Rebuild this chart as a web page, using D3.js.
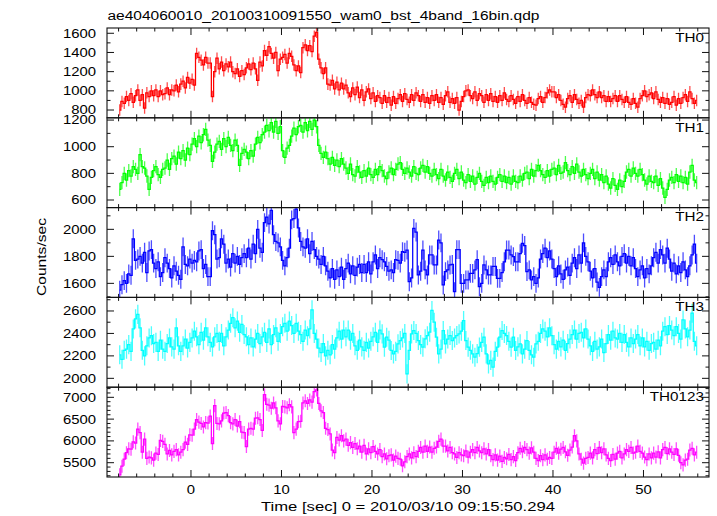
<!DOCTYPE html>
<html><head><meta charset="utf-8">
<script src="https://cdn.jsdelivr.net/npm/d3@7/dist/d3.min.js"></script>
<style>
body{margin:0;background:#fff}
svg{display:block}
text{font-family:"Liberation Sans",Arial,Helvetica,sans-serif;font-size:12px;fill:#000}
</style>
</head><body>
<svg id="c" width="717" height="516"></svg>
<script>
// ---- data (0.25 s bins starting at t = -8 s) ----
const binStart = -8.0, binWidth = 0.25;
const th0 = [
800,890,870,940, 900,970,880,950, 1010,900,960,820, 980,940,1000,950, 1010,940,1000,960, 970,1030,960,1010, 1000,1060,990,1070, 1100,1030,1140,1080,
1120,1060,1390,1350, 1320,1270,1350,1290, 1290,940,1200,1340, 1230,1300,1210,1280, 1250,1300,1200,1180, 1230,1150,1210,1170, 1240,1280,1220,1290, 1230,1110,1300,1260,
1420,1370,1460,1390, 1340,1400,1210,1330, 1350,1380,1290,1390, 1360,1270,1210,1260, 1190,1450,1480,1420, 1470,1410,1570,1610, 1330,1240,1180,1240, 1070,1060,1110,1020,
1090,1010,1080,1020, 1060,980,940,1030, 960,1040,930,1010, 900,990,1020,920, 980,890,950,930, 870,950,880,930, 850,940,870,920, 960,890,970,910,
880,960,900,980, 950,890,960,880, 930,870,950,900, 960,880,930,860, 950,990,880,920, 870,930,800,890, 940,1000,1010,950, 920,990,900,970,
950,880,960,900, 970,890,940,880, 950,900,980,910, 890,950,910,870, 940,890,960,900, 870,930,880,860, 850,920,940,880, 930,980,1010,990,
990,930,960,900, 860,830,920,950, 880,960,910,870, 900,830,930,960, 950,1010,960,930, 990,930,950,890, 940,890,920,950, 890,950,910,880,
940,880,860,920, 870,830,920,950, 1000,940,960,980, 920,990,910,880, 930,870,920,860, 880,940,850,920, 870,930,960,890, 990,920,870,900
];
const th1 = [
680,730,800,750, 820,780,850,830, 800,940,850,840, 780,680,770,820, 850,790,770,830, 840,900,830,910, 930,870,960,910, 970,900,990,940,
1020,1060,1000,1080, 1030,1090,1130,1050, 1010,890,960,1020, 1040,980,1060,1000, 1070,1010,970,1050, 1010,860,950,980, 960,910,970,930, 1020,1070,1030,1090,
1110,1160,1120,1180, 1110,1190,1100,1150, 970,920,990,1010, 1080,1140,1090,1150, 1160,1110,1180,1120, 1190,1130,1200,1150, 1010,950,920,960, 910,870,920,860,
900,850,910,870, 840,800,870,790, 780,850,810,770, 820,780,840,790, 770,830,790,850, 820,780,760,810, 840,790,830,870, 880,830,800,840,
810,780,850,800, 790,840,860,810, 850,800,780,830, 790,760,830,780, 750,810,770,740, 800,830,760,810, 750,730,790,740, 780,720,770,800,
740,710,770,730, 780,740,720,770, 790,740,780,730, 770,720,780,740, 730,780,750,800, 810,760,830,780, 820,860,820,790, 770,820,780,830,
840,790,860,800, 810,880,820,790, 850,800,870,810, 780,830,790,760, 800,830,760,810, 750,790,730,780, 720,690,760,710, 680,750,700,740,
810,830,780,840, 800,780,830,790, 750,720,780,740, 730,780,710,760, 690,620,680,750, 770,730,790,740, 780,730,770,720, 810,860,750,730
];
const th2 = [
1550,1590,1620,1600, 1670,1660,1930,1770, 1780,1800,1750,1830, 1680,1840,1850,1750, 1710,1760,1650,1680, 1790,1750,1710,1640, 1730,1690,1660,1630, 1870,1740,1730,1780,
1750,1770,1760,1840, 1850,1710,1740,1650, 1650,1990,1960,1780, 1790,1930,1890,1750, 1780,1720,1820,1750, 1800,1740,1790,1820, 1790,1860,1780,1890, 1820,2000,1860,1830,
2050,2090,2040,2140, 1960,1910,1900,1870, 1770,1730,1790,1860, 2070,2080,2150,2010, 1910,1870,1860,1930, 1820,1910,1850,1800, 1780,1740,1800,1730, 1690,1640,1710,1630,
1700,1650,1720,1630, 1710,1750,1670,1730, 1660,1720,1740,1680, 1740,1680,1760,1670, 1760,1810,1710,1790, 1775,1760,1725,1690, 1700,1680,1775,1770, 1750,1835,1830,1847,
1612,1640,2007,1980, 1662,1690,1847,1700, 1662,1810,1810,1736, 1736,1921,1900,1588, 1687,1700,1736,1740, 1538,1850,1850,1600, 1600,1625,1625,1674, 1674,1700,1775,1575,
1600,1736,1700,1662, 1662,1725,1725,1637, 1637,1680,1760,1847, 1847,1810,1798,1760, 1760,1820,1897,1880, 1687,1700,1625,1650, 1600,1640,1780,1820, 1860,1790,1840,1780,
1710,1650,1730,1670, 1630,1700,1720,1660, 1750,1790,1710,1810, 1750,1900,1800,1760, 1690,1640,1710,1610, 1570,1650,1700,1650, 1760,1790,1740,1810, 1760,1730,1800,1820,
1750,1800,1730,1790, 1710,1650,1700,1730, 1640,1710,1670,1730, 1790,1830,1750,1850, 1810,1750,1860,1780, 1690,1750,1670,1730, 1680,1760,1700,1650, 1730,1810,1890,1750
];
const th3 = [
2210,2170,2250,2260, 2300,2240,2440,2530, 2570,2450,2250,2200, 2290,2360,2380,2310, 2320,2240,2340,2260, 2240,2310,2360,2280, 2260,2450,2290,2240, 2290,2350,2270,2320,
2360,2420,2370,2300, 2410,2340,2450,2370, 2320,2280,2370,2400, 2330,2400,2290,2370, 2430,2490,2540,2450, 2510,2410,2480,2390, 2370,2300,2360,2280, 2350,2400,2310,2370,
2410,2320,2440,2300, 2390,2450,2330,2400, 2460,2490,2420,2510, 2470,2400,2490,2420, 2390,2330,2430,2380, 2440,2610,2400,2350, 2270,2230,2310,2200, 2250,2210,2300,2260,
2360,2420,2350,2430, 2370,2430,2340,2400, 2290,2250,2340,2280, 2250,2320,2270,2330, 2370,2410,2320,2430, 2396,2278,2366,2340, 2248,2218,2240,2307, 2337,2360,2400,2040,
2248,2396,2426,2400, 2337,2300,2278,2352, 2380,2411,2605,2500, 2366,2218,2260,2426, 2307,2350,2381,2337, 2360,2381,2396,2420, 2515,2337,2278,2250, 2218,2188,2220,2278,
2320,2366,2218,2129, 2160,2100,2240,2278, 2366,2426,2400,2381, 2330,2278,2366,2248, 2280,2307,2218,2260, 2337,2248,2210,2188, 2307,2330,2400,2440, 2420,2370,2450,2380,
2300,2260,2330,2280, 2340,2250,2310,2350, 2390,2430,2350,2400, 2410,2360,2440,2350, 2290,2240,2330,2260, 2280,2350,2230,2310, 2390,2340,2420,2360, 2350,2400,2320,2390,
2320,2280,2360,2310, 2350,2390,2290,2360, 2280,2330,2250,2310, 2320,2260,2340,2290, 2420,2460,2390,2470, 2430,2380,2460,2400, 2350,2520,2440,2370, 2430,2580,2330,2290
];
const th0123 = [
5220,5420,5580,5730, 5820,5810,5980,5950, 6270,6190,5740,6040, 5600,5630,5610,5560, 5720,5690,6010,5990, 5920,5700,5780,5680, 5760,5800,5680,5740, 5800,5970,5920,6140,
6130,6270,6490,6430, 6400,6320,6420,6410, 6570,5940,6810,6400, 6390,6460,6640,6650, 6580,6420,6390,6490, 6340,6440,6200,6190, 5870,6270,6290,6270, 6520,6530,6490,6240,
7060,6840,6820,6750, 6870,6760,6460,6390, 6790,6780,6760,6830, 6780,6190,6270,6440, 6450,6870,6920,6860, 6940,6890,7130,7170, 6860,6690,6650,6290, 6260,6160,5790,5730,
6080,6020,6120,6000, 6040,5900,5960,5850, 5940,5820,5880,5740, 5900,5700,5820,5730, 5870,5760,5700,5800, 5640,5700,5590,5660, 5680,5560,5650,5600, 5580,5430,5520,5640,
5700,5610,5730,5640, 5760,5850,5740,5880, 5760,5860,5740,5830, 5860,5990,6040,5880, 5880,5770,5850,5730, 5700,5620,5730,5680, 5660,5770,5630,5740, 5800,5730,5850,5770,
5730,5820,5700,5800, 5660,5570,5680,5560, 5650,5530,5620,5590, 5690,5570,5640,5550, 5730,5830,5750,5850, 5800,5720,5840,5740, 5600,5550,5660,5570, 5680,5580,5620,5600,
5740,5830,5720,5810, 5850,5750,5670,5790, 5860,6120,6000,5700, 5580,5490,5600,5620, 5720,5610,5800,5710, 5850,5730,5820,5680, 5600,5550,5690,5580, 5720,5760,5610,5700,
5800,5760,5850,5720, 5740,5880,5760,5720, 5630,5570,5700,5610, 5720,5630,5750,5610, 5800,5850,5710,5820, 5740,5690,5820,5670, 5500,5450,5560,5580, 5790,5830,5680,5740
];
const bandNames = ["TH0","TH1","TH2","TH3","TH0123"];
const bandColors = ["#ff0000","#00ff00","#0000ff","#00ffff","#ff00ff"];
const bandErr = [60,50,70,85,150];
const yDomains = [[719,1655],[543,1217],[1496,2161],[1921,2721],[5172,7232]];
const yTickLabels = [[800,1000,1200,1400,1600],[600,800,1000,1200],[1600,1800,2000],[2000,2200,2400,2600],[5500,6000,6500,7000]];
const yMinorStep = [100,100,100,100,100];
const xTickLabels = [0,10,20,30,40,50];
const xDomain = [-9.28, 57.24];
const titleText = "ae404060010_20100310091550_wam0_bst_4band_16bin.qdp";
const xTitle = "Time [sec] 0 = 2010/03/10 09:15:50.294";
const yTitle = "Counts/sec";
const series = [th0, th1, th2, th3, th0123];

// ---- layout ----
const L = 107, R = 709, T = 28, B = 477;
const nP = series.length, pH = (B - T) / nP;
const svg = d3.select("#c");
const x = d3.scaleLinear().domain(xDomain).range([L, R]);
const tc = j => binStart + binWidth * (j + 0.5);

function label(sel, px, py, str, anchor, sx) {
  return sel.append("text").attr("text-anchor", anchor)
    .attr("transform", `translate(${px},${py}) scale(${sx},1)`).text(str);
}

svg.append("defs").selectAll("clipPath").data(series).join("clipPath")
  .attr("id", (d, i) => "clip" + i)
  .append("rect").attr("x", L).attr("width", R - L)
  .attr("y", (d, i) => T + i * pH).attr("height", pH);

series.forEach((vals, i) => {
  const y0 = T + i * pH, y1 = y0 + pH;
  const y = d3.scaleLinear().domain(yDomains[i]).range([y1, y0]);
  const g = svg.append("g");
  const dg = g.append("g").attr("clip-path", `url(#clip${i})`);
  const col = bandColors[i], e = bandErr[i];
  dg.selectAll("line").data(vals).join("line")
    .attr("x1", (d, j) => x(tc(j))).attr("x2", (d, j) => x(tc(j)))
    .attr("y1", d => y(d - e)).attr("y2", d => y(d + e))
    .attr("stroke", col).attr("stroke-width", 1.3).attr("stroke-opacity", 0.7);
  const line = d3.line().x((d, j) => x(tc(j))).y(d => y(d)).curve(d3.curveStep);
  dg.append("path").attr("d", line(vals)).attr("fill", "none")
    .attr("stroke", col).attr("stroke-width", 1.25);

  // frame
  g.append("rect").attr("x", L).attr("y", y0).attr("width", R - L).attr("height", pH)
    .attr("fill", "none").attr("stroke", "#111").attr("stroke-width", 1.1);

  // y ticks
  const st = yMinorStep[i];
  const yt = d3.range(Math.ceil(yDomains[i][0] / st) * st, yDomains[i][1], st);
  yt.forEach(v => {
    const len = yTickLabels[i].includes(v) ? 7 : 3.5;
    const yy = y(v);
    g.append("line").attr("x1", L).attr("x2", L + len).attr("y1", yy).attr("y2", yy).attr("stroke", "#111");
    g.append("line").attr("x1", R).attr("x2", R - len).attr("y1", yy).attr("y2", yy).attr("stroke", "#111");
  });
  yTickLabels[i].forEach(v => label(g, 96, y(v) + 4.4, String(v), "end", 1.24));

  // x ticks
  d3.range(-8, xDomain[1], 2).forEach(t => {
    const len = t % 10 === 0 ? 7 : 3.5;
    const xx = x(t);
    g.append("line").attr("x1", xx).attr("x2", xx).attr("y1", y0).attr("y2", y0 + len).attr("stroke", "#111");
    g.append("line").attr("x1", xx).attr("x2", xx).attr("y1", y1).attr("y2", y1 - len).attr("stroke", "#111");
  });

  label(g, 704, y0 + 13.7, bandNames[i], "end", 1.27);

  if (i === nP - 1) {
    xTickLabels.forEach(t => label(g, x(t), B + 16.5, String(t), "middle", 1.24));
  }
});

svg.append("text").attr("x", 107.5).attr("y", 19.5).attr("textLength", 432)
  .attr("lengthAdjust", "spacingAndGlyphs").text(titleText);
svg.append("text").attr("x", 408).attr("y", 510.8).attr("text-anchor", "middle")
  .attr("textLength", 294).attr("lengthAdjust", "spacingAndGlyphs").text(xTitle);
svg.append("text").attr("transform", "translate(45.5,257) rotate(-90)")
  .attr("text-anchor", "middle").attr("textLength", 78)
  .attr("lengthAdjust", "spacingAndGlyphs").text(yTitle);
</script>
</body></html>
